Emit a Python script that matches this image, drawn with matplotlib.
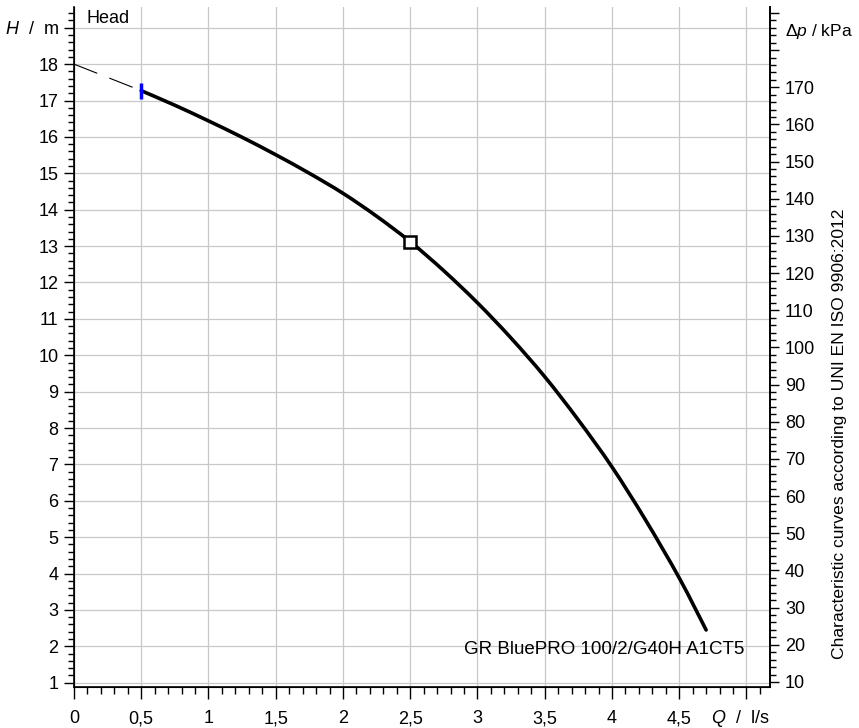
import matplotlib
matplotlib.use("Agg")
import matplotlib.pyplot as plt
import numpy as np
from matplotlib.path import Path
from matplotlib.patches import PathPatch
from matplotlib.ticker import MultipleLocator, FixedLocator, FixedFormatter

plt.rcParams['font.family'] = ['Liberation Sans', 'DejaVu Sans']
plt.rcParams['mathtext.fontset'] = 'custom'
plt.rcParams['mathtext.it'] = 'Liberation Sans:italic'
plt.rcParams['mathtext.rm'] = 'Liberation Sans'

# head curve (Q in l/s, H in m)
q = [0.5, 0.75, 1.0, 1.25, 1.5, 1.75, 2.0, 2.25, 2.5, 2.75, 3.0,
     3.25, 3.5, 3.75, 4.0, 4.25, 4.5, 4.7]
h = [17.27, 16.87, 16.44, 15.99, 15.51, 15.0, 14.45, 13.82, 13.12, 12.32, 11.44,
     10.47, 9.41, 8.22, 6.93, 5.47, 3.88, 2.45]
# dashed extension to shut-off head
q_ext = [0.0, 0.5]
h_ext = [18.0, 17.27]
# min flow mark and duty point
q_min = 0.5
h_min_bar = [17.05, 17.49]
q_duty = 2.5
h_duty = 13.12

kpa_per_m = 9.79
x_ticks = [0, 0.5, 1, 1.5, 2, 2.5, 3, 3.5, 4, 4.5, 5]
x_labels = ["0", "0,5", "1", "1,5", "2", "2,5", "3", "3,5", "4", "4,5", ""]
y_ticks = list(range(1, 20))
y_labels = [str(v) for v in range(1, 19)] + [r"$\mathit{H}$  /  m"]
p_ticks = list(range(10, 200, 10))
p_labels = [str(v) for v in range(10, 180, 10)] + ["", ""]


def smooth_path(xs, ys):
    # catmull-rom through the read points, drawn as bezier segments
    pts = np.column_stack([xs, ys])
    verts = [pts[0]]
    codes = [Path.MOVETO]
    n = len(pts)
    for i in range(n - 1):
        p0 = pts[i - 1] if i > 0 else pts[i]
        p1, p2 = pts[i], pts[i + 1]
        p3 = pts[i + 2] if i + 2 < n else pts[i + 1]
        verts += [p1 + (p2 - p0) / 6, p2 - (p3 - p1) / 6, p2]
        codes += [Path.CURVE4] * 3
    return Path(verts, codes)


fig = plt.figure(figsize=(8.59, 7.28), dpi=100)
ax = fig.add_axes([0.0861, 0.0559, 0.8103, 0.934])
ylo, yhi = 0.874, 19.56
ax.set_xlim(0, 5.175)
ax.set_ylim(ylo, yhi)

ax.xaxis.set_major_locator(FixedLocator(x_ticks))
ax.xaxis.set_major_formatter(FixedFormatter(x_labels))
ax.xaxis.set_minor_locator(MultipleLocator(0.1))
ax.yaxis.set_major_locator(FixedLocator(y_ticks))
ax.yaxis.set_major_formatter(FixedFormatter(y_labels))
ax.yaxis.set_minor_locator(MultipleLocator(0.2))
ax.grid(True, which='major', color='#c8c8c8', lw=0.9)
ax.set_axisbelow(True)

ax.tick_params(axis='x', which='major', length=8.6, width=1, pad=8, labelsize=13)
ax.tick_params(axis='x', which='minor', length=4.8, width=1)
ax.tick_params(axis='y', which='major', length=7.2, width=1, pad=4, labelsize=13)
ax.tick_params(axis='y', which='minor', length=4.3, width=1)
for s in ['left', 'bottom', 'right', 'top']:
    ax.spines[s].set_linewidth(1.2)
ax.spines['top'].set_visible(False)

ax2 = ax.twinx()
ax2.set_ylim(ylo * kpa_per_m, yhi * kpa_per_m)
ax2.yaxis.set_major_locator(FixedLocator(p_ticks))
ax2.yaxis.set_major_formatter(FixedFormatter(p_labels))
ax2.yaxis.set_minor_locator(MultipleLocator(2))
ax2.tick_params(axis='y', which='major', length=6.7, width=1, pad=4, labelsize=13)
ax2.tick_params(axis='y', which='minor', length=4.3, width=1)
ax2.spines['right'].set_linewidth(1.2)
ax2.spines['top'].set_visible(False)
ax2.text(5.29, 185, r"$\mathit{Δp}$ / kPa", transform=ax2.transData,
         ha='left', va='center', fontsize=12.5, clip_on=False)

# curves
ax.plot(q_ext, h_ext, color='black', lw=0.8, dashes=(22.5, 11.7))
ax.add_patch(PathPatch(smooth_path(q, h), facecolor='none', edgecolor='black',
                       lw=2.6, capstyle='round', joinstyle='round'))
ax.plot([q_min, q_min], h_min_bar, color='#0000ff', lw=2.5, solid_capstyle='butt')
ax.plot([q_duty], [h_duty], marker='s', ms=8, mfc='white', mec='black', mew=1.8, zorder=5)

ax.text(0.09, 19.26, "Head", ha='left', va='center', fontsize=13)
ax.text(4.985, 1.9, "GR BluePRO 100/2/G40H A1CT5", ha='right', va='center', fontsize=13.5)
ax.text(4.95, -0.12, r"$\mathit{Q}$  /  l/s", ha='center', va='baseline', fontsize=13)
fig.text(0.977, 0.404, "Characteristic curves according to UNI EN ISO 9906:2012",
         rotation=90, ha='center', va='center', fontsize=12.6)

fig.savefig("out.png", dpi=100)
